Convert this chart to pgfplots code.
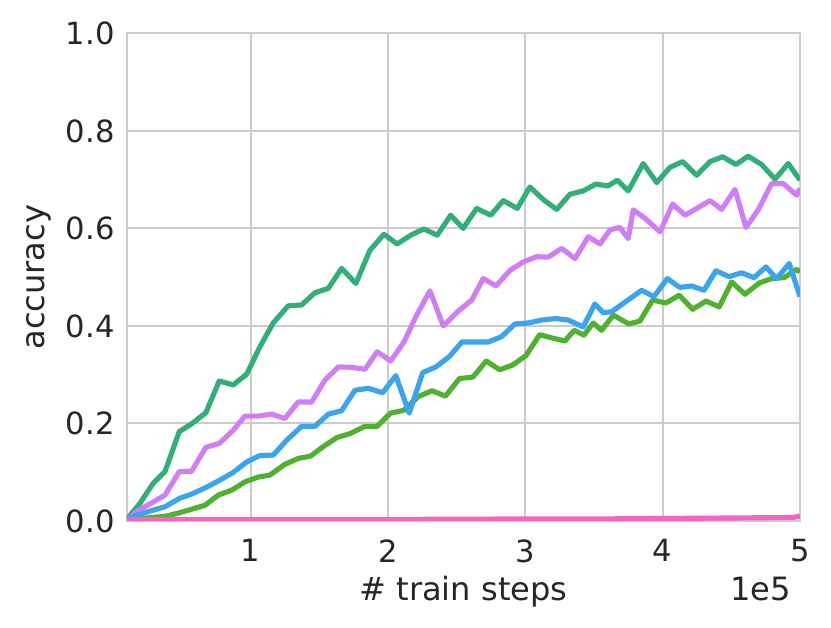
\documentclass[border=0pt]{standalone}
\usepackage{fontspec}
\setmainfont{DejaVu Sans}
\usepackage{pgfplots}
\pgfplotsset{compat=1.18}

\definecolor{txt}{HTML}{262626}
\definecolor{gridc}{HTML}{CCCCCC}
\definecolor{cteal}{HTML}{34AE78}
\definecolor{cgreen}{HTML}{50B030}
\definecolor{cblue}{HTML}{3CA4EC}
\definecolor{cpurple}{HTML}{D07EF4}
\definecolor{cpink}{HTML}{F564BE}

\begin{document}
\begin{tikzpicture}
\begin{axis}[
    scale only axis,
    width=314.5pt, height=227.8pt,
    xmin=0.1, xmax=5, ymin=0, ymax=1,
    xtick={1,2,3,4,5},
    ytick={0,0.2,0.4,0.6,0.8,1.0},
    scaled x ticks=false,
    xticklabel={\pgfmathprintnumber[fixed,precision=0]{\tick}},
    yticklabel={\pgfmathprintnumber[fixed,fixed zerofill,precision=1]{\tick}},
    /pgf/number format/assume math mode=true,
    major tick length=0pt,
    grid=major,
    major grid style={gridc, line width=0.95pt},
    axis line style={gridc, line width=0.95pt},
    tick label style={font=\fontsize{14.3}{16}\selectfont, text=txt, inner sep=0pt},
    xticklabel style={anchor=north, yshift=-8.5pt},
    yticklabel style={anchor=east, xshift=-5.6pt},
    label style={font=\fontsize{15}{18}\selectfont, text=txt},
    xlabel={\# train steps},
    ylabel={accuracy},
    xlabel style={at={(axis description cs:0.5,-0.1625)}, anchor=base},
    ylabel style={at={(axis description cs:-0.1218,0.5)}, anchor=base, rotate=0},
    every axis plot/.append style={line width=2.4pt, line join=round, no markers},
]
% teal
\addplot[cteal] coordinates {
(0.100,0.004)(0.195,0.036)(0.291,0.077)(0.377,0.101)(0.481,0.183)(0.571,0.199)
(0.675,0.222)(0.772,0.287)(0.874,0.279)(0.972,0.301)(1.068,0.357)(1.165,0.406)
(1.274,0.441)(1.372,0.443)(1.469,0.468)(1.566,0.477)(1.663,0.518)(1.767,0.487)
(1.869,0.555)(1.971,0.588)(2.068,0.568)(2.166,0.586)(2.262,0.599)(2.359,0.586)
(2.457,0.627)(2.548,0.600)(2.646,0.641)(2.748,0.627)(2.840,0.657)(2.942,0.641)
(3.034,0.685)(3.136,0.658)(3.229,0.639)(3.325,0.670)(3.422,0.677)(3.515,0.691)
(3.602,0.687)(3.670,0.699)(3.750,0.677)(3.859,0.733)(3.957,0.694)(4.053,0.725)
(4.146,0.737)(4.248,0.709)(4.345,0.737)(4.437,0.747)(4.534,0.731)(4.623,0.748)
(4.721,0.731)(4.818,0.701)(4.915,0.733)(5.000,0.699)};
% green
\addplot[cgreen] coordinates {
(0.100,0.004)(0.195,0.005)(0.289,0.007)(0.389,0.010)(0.486,0.017)(0.571,0.024)
(0.668,0.032)(0.765,0.053)(0.862,0.063)(0.959,0.080)(1.056,0.090)(1.141,0.094)
(1.250,0.116)(1.347,0.128)(1.437,0.133)(1.527,0.152)(1.629,0.171)(1.724,0.179)
(1.833,0.194)(1.922,0.194)(2.018,0.221)(2.117,0.227)(2.221,0.255)(2.321,0.267)
(2.419,0.256)(2.521,0.292)(2.619,0.295)(2.716,0.328)(2.814,0.310)(2.910,0.320)
(3.005,0.339)(3.105,0.382)(3.198,0.375)(3.289,0.369)(3.356,0.391)(3.427,0.381)
(3.495,0.406)(3.556,0.391)(3.641,0.422)(3.755,0.404)(3.835,0.410)(3.927,0.453)
(4.024,0.447)(4.121,0.463)(4.219,0.434)(4.316,0.451)(4.412,0.439)(4.503,0.490)
(4.600,0.465)(4.704,0.488)(4.794,0.497)(4.884,0.499)(4.976,0.516)(5.000,0.511)};
% purple
\addplot[cpurple] coordinates {
(0.100,0.004)(0.198,0.024)(0.293,0.039)(0.377,0.053)(0.481,0.101)(0.571,0.102)
(0.675,0.151)(0.772,0.159)(0.874,0.186)(0.959,0.215)(1.056,0.215)(1.154,0.219)
(1.250,0.210)(1.347,0.244)(1.445,0.244)(1.542,0.289)(1.640,0.316)(1.736,0.315)
(1.833,0.311)(1.922,0.347)(2.020,0.328)(2.117,0.367)(2.209,0.422)(2.306,0.472)
(2.403,0.400)(2.503,0.428)(2.610,0.453)(2.694,0.497)(2.787,0.482)(2.889,0.514)
(2.985,0.531)(3.083,0.542)(3.167,0.541)(3.265,0.559)(3.362,0.538)(3.459,0.583)
(3.544,0.568)(3.617,0.597)(3.689,0.602)(3.750,0.579)(3.786,0.638)(3.871,0.621)
(3.981,0.593)(4.073,0.650)(4.163,0.627)(4.260,0.643)(4.345,0.657)(4.430,0.639)
(4.527,0.680)(4.607,0.602)(4.696,0.638)(4.794,0.692)(4.878,0.692)(4.976,0.668)
(5.000,0.682)};
% blue
\addplot[cblue] coordinates {
(0.100,0.005)(0.195,0.014)(0.289,0.022)(0.377,0.029)(0.481,0.046)(0.571,0.055)
(0.672,0.068)(0.772,0.083)(0.872,0.099)(0.972,0.121)(1.068,0.134)(1.165,0.135)
(1.265,0.166)(1.372,0.194)(1.469,0.194)(1.566,0.219)(1.663,0.226)(1.760,0.268)
(1.857,0.272)(1.962,0.263)(2.058,0.298)(2.155,0.221)(2.253,0.304)(2.350,0.316)
(2.447,0.337)(2.539,0.367)(2.634,0.367)(2.731,0.367)(2.828,0.378)(2.925,0.404)
(3.022,0.406)(3.119,0.412)(3.223,0.415)(3.313,0.412)(3.422,0.398)(3.507,0.445)
(3.568,0.427)(3.629,0.429)(3.713,0.446)(3.847,0.473)(3.937,0.460)(4.034,0.497)
(4.126,0.479)(4.211,0.482)(4.301,0.473)(4.388,0.513)(4.485,0.501)(4.575,0.509)
(4.665,0.499)(4.752,0.521)(4.830,0.497)(4.922,0.528)(5.000,0.460)};
% pink
\addplot[cpink] coordinates {
(0.100,0.003)(1.000,0.003)(2.000,0.003)(3.000,0.004)(3.500,0.004)(4.000,0.005)
(4.500,0.006)(4.950,0.007)(5.000,0.010)};
\end{axis}
\node[anchor=base east, font=\fontsize{15}{18}\selectfont, text=txt]
    at ([xshift=-0.7pt,yshift=-37.0pt]current axis.south east) {1e5};
\pgfresetboundingbox
\path ([shift={(-59.3pt,-49.6pt)}]current axis.south west)
    rectangle ([shift={(14.5pt,15.6pt)}]current axis.north east);
\end{tikzpicture}
\end{document}
